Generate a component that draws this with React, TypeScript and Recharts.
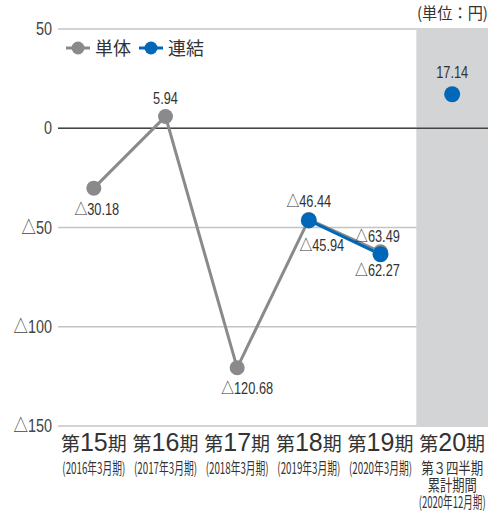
import React from "react";
import { LineChart, Line, XAxis, YAxis, CartesianGrid, ReferenceLine, ReferenceArea, LabelList } from "recharts";

const categories = ["第15期", "第16期", "第17期", "第18期", "第19期", "第20期"];
const periodNotes = [
  ["(2016年3月期)"],
  ["(2017年3月期)"],
  ["(2018年3月期)"],
  ["(2019年3月期)"],
  ["(2020年3月期)"],
  ["第３四半期", "累計期間", "(2020年12月期)"],
];
const nonConsolidated = [-30.18, 5.94, -120.68, -45.94, -62.27, null];
const consolidatedAnnual = [null, null, null, -46.44, -63.49, null];
const consolidatedQuarter = [null, null, null, null, null, 17.14];
const yTicks = [50, 0, -50, -100, -150];

const GREY = "#8a8a8c";
const BLUE = "#0068b7";
const SANS = "'Liberation Sans', 'Noto Sans CJK JP', sans-serif";
const CJK = "'Noto Sans CJK JP', sans-serif";

const data = categories.map((c, i) => ({
  name: c,
  tan: nonConsolidated[i],
  ren: consolidatedAnnual[i],
  renQ: consolidatedQuarter[i],
}));

const fmt = (v: number) => (v < 0 ? "△" + Math.abs(v) : String(v));
const fmt2 = (v: number) => (v < 0 ? "△" + Math.abs(v).toFixed(2) : v.toFixed(2));

// narrow text: horizontally squeezed
const Narrow = ({ x, y, anchor = "middle", size, children, sx = 0.8, fill = "#333", family = SANS }: any) => (
  <g transform={`translate(${x},${y}) scale(${sx},1)`}>
    <text x={0} y={0} textAnchor={anchor} fontSize={size} fill={fill} fontFamily={family}>
      {children}
    </text>
  </g>
);

// label offsets per point (dx, dy from dot centre)
const tanPlace: Record<number, [number, number]> = {
  0: [3, 27], 1: [0, -12], 2: [10, 26], 3: [13, 32], 4: [-3, 24],
};
const renPlace: Record<number, [number, number]> = {
  3: [0, -13], 4: [-3, -12], 5: [0, -16],
};

const mkLabel = (place: Record<number, [number, number]>) => (props: any) => {
  const { x, y, value, index } = props;
  if (value == null || !place[index]) return null;
  const [dx, dy] = place[index];
  return (
    <Narrow x={x + dx} y={y + dy} size={16}>
      {fmt2(value)}
    </Narrow>
  );
};

const YTick = (props: any) => {
  const { x, y, payload } = props;
  return (
    <Narrow x={x} y={y + 6} anchor="end" size={18} fill="#444">
      {fmt(payload.value)}
    </Narrow>
  );
};

const noteWidth = (n: string) => (n.startsWith("(") ? (n.length > 10 ? 67 : 63) : n.length > 4 ? 62 : 49);

const XTick = (props: any) => {
  const { x, y, payload } = props;
  const label: string = payload.value;
  const m = label.match(/^(第)(\d+)(期)$/);
  const notes = periodNotes[payload.index] || [];
  return (
    <g>
      <text x={x} y={y + 25} textAnchor="middle" fill="#333" fontFamily={CJK}>
        <tspan fontSize={19}>{m ? m[1] : label}</tspan>
        <tspan fontSize={25} fontFamily="'Liberation Sans', sans-serif">{m ? m[2] : ""}</tspan>
        <tspan fontSize={19}>{m ? m[3] : ""}</tspan>
      </text>
      {notes.map((n, i) => (
        <text key={i} x={x} y={y + 48 + i * 17} textAnchor="middle" fill="#333" fontSize={15.5}
          fontFamily={CJK} textLength={noteWidth(n)} lengthAdjust="spacingAndGlyphs">
          {n}
        </text>
      ))}
    </g>
  );
};

const LegendBox = () => (
  <g fontFamily={CJK} fontSize={18} fill="#333">
    <line x1={66} y1={48} x2={90} y2={48} stroke={GREY} strokeWidth={3} />
    <circle cx={78} cy={48} r={6.5} fill={GREY} />
    <text x={95} y={55}>単体</text>
    <line x1={139} y1={48} x2={163} y2={48} stroke={BLUE} strokeWidth={3} />
    <circle cx={151} cy={48} r={6.5} fill={BLUE} />
    <text x={168} y={55}>連結</text>
  </g>
);

export default function App() {
  return (
    <div style={{ position: "absolute", left: 0, top: 0, width: 496, height: 517, background: "#fff" }}>
      <LineChart width={496} height={517} data={data} margin={{ top: 29, right: 8, bottom: 0, left: 0 }}>
        <ReferenceArea x1="第20期" x2="第20期" y1={-150} y2={50} fill="#d3d4d6" fillOpacity={1} stroke="none" ifOverflow="visible" />
        <CartesianGrid vertical={false} stroke="#c4c4c4" strokeWidth={1.5} />
        <ReferenceLine y={0} stroke="#444" strokeWidth={1.5} />
        <XAxis dataKey="name" scale="band" axisLine={false} tickLine={false} tickSize={0} tickMargin={0} height={91}
          interval={0} tick={<XTick />} />
        <YAxis domain={[-150, 50]} ticks={yTicks} width={58} axisLine={false} tickLine={false} tickSize={0}
          tickMargin={6} interval={0} tick={<YTick />} />
        <Line dataKey="tan" stroke={GREY} strokeWidth={3} isAnimationActive={false}
          dot={{ r: 7.5, fill: GREY, stroke: GREY, strokeWidth: 0 }} activeDot={false}>
          <LabelList dataKey="tan" content={mkLabel(tanPlace)} />
        </Line>
        <Line dataKey="ren" stroke={BLUE} strokeWidth={3} isAnimationActive={false}
          dot={{ r: 8, fill: BLUE, stroke: BLUE, strokeWidth: 0 }} activeDot={false}>
          <LabelList dataKey="ren" content={mkLabel(renPlace)} />
        </Line>
        <Line dataKey="renQ" stroke={BLUE} strokeWidth={3} isAnimationActive={false}
          dot={{ r: 8, fill: BLUE, stroke: BLUE, strokeWidth: 0 }} activeDot={false}>
          <LabelList dataKey="renQ" content={mkLabel(renPlace)} />
        </Line>
        <LegendBox />
        <Narrow x={488} y={19} anchor="end" size={16} sx={0.95} family={CJK}>(単位：円)</Narrow>
      </LineChart>
    </div>
  );
}
